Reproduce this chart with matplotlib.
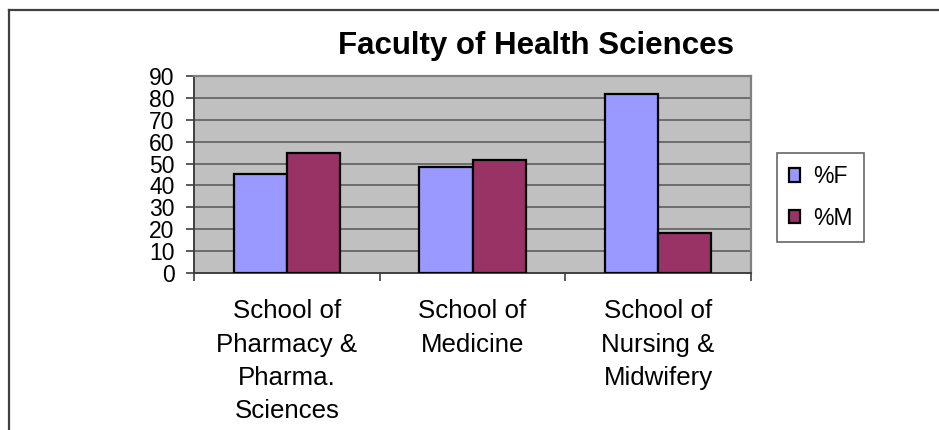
import matplotlib
matplotlib.use("Agg")
import matplotlib.pyplot as plt
from matplotlib.lines import Line2D
import numpy as np

plt.rcParams['font.family'] = ['Liberation Sans', 'DejaVu Sans']

# data
schools = ["School of\nPharmacy &\nPharma.\nSciences",
           "School of\nMedicine",
           "School of\nNursing &\nMidwifery"]
pct_f = [45.2, 48.2, 81.9]
pct_m = [54.8, 51.8, 18.1]
series_names = ["%F", "%M"]
y_ticks = [0, 10, 20, 30, 40, 50, 60, 70, 80, 90]

W, H = 939, 430
fig = plt.figure(figsize=(W / 100, H / 100), dpi=100)

# outer chart frame (top and left edges visible)
frame_col = "#404040"
fig.add_artist(Line2D([9 / W, 1.0], [1 - 10 / H, 1 - 10 / H], color=frame_col, lw=1.6,
                      transform=fig.transFigure))
fig.add_artist(Line2D([9 / W, 9 / W], [1 - 10 / H, 0.0], color=frame_col, lw=1.6,
                      transform=fig.transFigure))

# plot area in pixels: x 194..751, y 76..273
ax = fig.add_axes([194 / W, 1 - 273 / H, (751 - 194) / W, (273 - 76) / H])
ax.set_facecolor("#C0C0C0")

x = np.arange(len(schools))
w = 1 / 3.5
ax.bar(x - w / 2, pct_f, width=w, color="#9999FF", edgecolor="black", linewidth=1.6,
       label=series_names[0], zorder=3)
ax.bar(x + w / 2, pct_m, width=w, color="#993366", edgecolor="black", linewidth=1.6,
       label=series_names[1], zorder=3)

ax.set_xlim(-0.5, len(schools) - 0.5)
ax.set_ylim(0, 90)
ax.set_yticks(y_ticks)
ax.set_yticklabels([str(v) for v in y_ticks], fontsize=16.5)
ax.yaxis.grid(True, color="#555555", linewidth=1.1, zorder=1)
ax.set_axisbelow(True)
ax.tick_params(axis="y", direction="out", length=6, width=1.2, color="#404040", pad=8)

ax.set_xticks(x)
ax.set_xticklabels(schools, fontsize=18.6, linespacing=1.49)
ax.tick_params(axis="x", which="major", length=0, pad=19)
ax.set_xticks(np.arange(len(schools) + 1) - 0.5, minor=True)
ax.tick_params(axis="x", which="minor", direction="out", length=6, width=1.2, color="#404040")

for side in ["top", "right"]:
    ax.spines[side].set_color("#808080")
    ax.spines[side].set_linewidth(1.6)
for side in ["left", "bottom"]:
    ax.spines[side].set_color("#404040")
    ax.spines[side].set_linewidth(1.4)

fig.text(536 / W, 1 - 46 / H, "Faculty of Health Sciences", fontsize=22.5, fontweight="bold",
         ha="center", va="center")

leg = fig.legend(loc="center left", bbox_to_anchor=(777 / W, 1 - 197.5 / H),
                 fontsize=16.5, frameon=True, fancybox=False, edgecolor="#404040",
                 handlelength=0.5, handleheight=0.5, handletextpad=0.55,
                 labelspacing=0.82, borderpad=0.52, borderaxespad=0)
leg.get_frame().set_linewidth(1.2)

fig.savefig("out.png", dpi=100)
